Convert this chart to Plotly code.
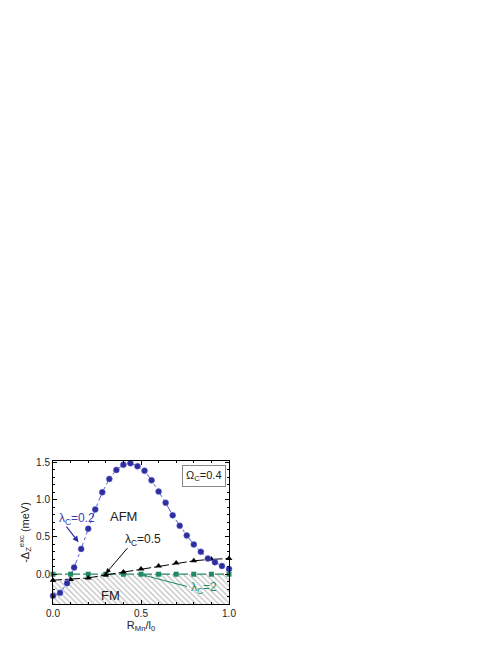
import plotly.graph_objects as go

# lambda_C = 0.2 (blue circles)
x_blue = [0.0, 0.04, 0.08, 0.12, 0.16, 0.20, 0.24, 0.28, 0.32, 0.36, 0.40, 0.44, 0.48,
          0.52, 0.56, 0.60, 0.64, 0.68, 0.72, 0.76, 0.80, 0.84, 0.88, 0.92, 0.96, 1.00]
y_blue = [-0.29, -0.25, -0.12, 0.09, 0.34, 0.61, 0.87, 1.10, 1.28, 1.40, 1.47, 1.49, 1.45,
          1.39, 1.26, 1.11, 0.96, 0.79, 0.65, 0.52, 0.40, 0.30, 0.21, 0.16, 0.11, 0.07]

# lambda_C = 0.5 (black triangles)
x_black = [0.0, 0.1, 0.2, 0.3, 0.4, 0.5, 0.6, 0.7, 0.8, 0.9, 1.0]
y_black = [-0.08, -0.07, -0.05, -0.01, 0.03, 0.07, 0.11, 0.15, 0.18, 0.20, 0.21]

# lambda_C = 2 (green squares)
x_green = [0.0, 0.1, 0.2, 0.3, 0.4, 0.5, 0.6, 0.7, 0.8, 0.9, 1.0]
y_green = [0.0, 0.0, 0.0, 0.0, 0.0, 0.0, 0.0, 0.0, 0.0, 0.0, 0.0]

# FM region outline (hatched)
x_fm = [0.0, 0.1, 0.2, 0.3, 0.33, 1.0, 1.0, 0.0]
y_fm = [-0.08, -0.07, -0.05, -0.01, 0.0, 0.0, -0.4, -0.4]

BLUE = "#2e2e9c"
GREEN = "#1f8a62"
FONT = "Arial, Liberation Sans, sans-serif"

fig = go.Figure()

# hatched FM area
fig.add_trace(
    go.Scatter(
        x=x_fm,
        y=y_fm,
        mode="lines",
        fill="toself",
        fillcolor="rgba(255,255,255,0)",
        fillpattern=dict(shape="\\", fgcolor="#808080", bgcolor="white", size=4, solidity=0.3),
        line=dict(width=0),
        hoverinfo="skip",
    )
)

fig.add_trace(
    go.Scatter(
        x=x_green,
        y=y_green,
        mode="lines+markers",
        line=dict(color=GREEN, dash="dashdot", width=1.2),
        marker=dict(symbol="square", size=5, color=GREEN),
        cliponaxis=False,
    )
)

fig.add_trace(
    go.Scatter(
        x=x_black,
        y=y_black,
        mode="lines+markers",
        line=dict(color="black", dash="dashdot", width=1),
        marker=dict(symbol="triangle-up", size=6, color="black"),
        cliponaxis=False,
    )
)

fig.add_trace(
    go.Scatter(
        x=x_blue,
        y=y_blue,
        mode="lines+markers",
        line=dict(color="#5a5ad0", dash="dashdot", width=1),
        marker=dict(symbol="circle", size=6, color=BLUE, line=dict(color="#6a6ad8", width=0.5)),
        cliponaxis=False,
    )
)

annotations = [
    dict(x=0.40, y=0.78, text="AFM", showarrow=False, font=dict(size=13, color="#222")),
    dict(x=0.326, y=-0.29, text="FM", showarrow=False, font=dict(size=13, color="#222")),
    dict(x=0.86, y=1.32, text="Ω<sub>C</sub>=0.4", showarrow=False,
         font=dict(size=11, color="#222"), bordercolor="#888", borderwidth=1,
         borderpad=3, bgcolor="white"),
    dict(x=0.02, y=0.74, text="λ<sub>C</sub>=0.2", showarrow=False, xanchor="left",
         font=dict(size=12, color="#3c3cb0")),
    dict(x=0.40, y=0.46, text="λ<sub>C</sub>=0.5", showarrow=False, xanchor="left",
         font=dict(size=12, color="#222")),
    dict(x=0.775, y=-0.19, text="λ<sub>C</sub>=2", showarrow=False, xanchor="left",
         font=dict(size=12, color=GREEN)),
    # arrows
    dict(x=0.145, y=0.43, ax=0.07, ay=0.66, xref="x", yref="y", axref="x", ayref="y",
         text="", showarrow=True, arrowhead=2, arrowsize=1, arrowwidth=1.2, arrowcolor="#2e2e9c"),
    dict(x=0.30, y=0.01, ax=0.43, ay=0.37, xref="x", yref="y", axref="x", ayref="y",
         text="", showarrow=True, arrowhead=2, arrowsize=1, arrowwidth=1, arrowcolor="black"),
    dict(x=0.51, y=-0.01, ax=0.77, ay=-0.17, xref="x", yref="y", axref="x", ayref="y",
         text="", showarrow=True, arrowhead=2, arrowsize=0.7, arrowwidth=1, arrowcolor=GREEN),
]

axis_common = dict(
    showgrid=False,
    zeroline=False,
    showline=True,
    linecolor="black",
    linewidth=1,
    mirror="allticks",
    ticks="inside",
    ticklen=4,
    tickwidth=1,
    tickcolor="black",
    tickformat=".1f",
    tickfont=dict(size=10, color="#222"),
    minor=dict(ticks="inside", ticklen=2, tickcolor="black", dtick=0.1),
)

# page body has an 8px margin, so the figure is a bit smaller than the window
fig.update_layout(
    width=485,
    height=633,
    autosize=False,
    showlegend=False,
    plot_bgcolor="white",
    paper_bgcolor="white",
    font=dict(family=FONT, color="#222"),
    margin=dict(l=45, r=264, t=453, b=34),
    xaxis=dict(
        axis_common,
        range=[0, 1.0],
        dtick=0.5,
        title=dict(text="R<sub>Mn</sub>/l<sub>0</sub>", font=dict(size=11), standoff=2),
    ),
    yaxis=dict(
        axis_common,
        range=[-0.4, 1.52],
        dtick=0.5,
        title=dict(text="-Δ<sub>Z</sub><sup>exc</sup> (meV)", font=dict(size=11), standoff=4),
    ),
    annotations=annotations,
)

fig.write_html("out.html")
